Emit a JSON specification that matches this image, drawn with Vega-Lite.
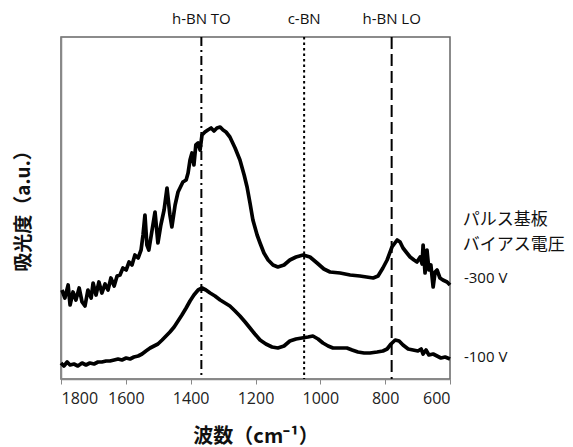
{
  "$schema": "https://vega.github.io/schema/vega-lite/v6.json",
  "autosize": "none",
  "width": 389,
  "height": 342,
  "padding": {"left": 61, "top": 37, "right": 123, "bottom": 68},
  "config": {
    "view": {"stroke": "#666", "strokeWidth": 1.5},
    "font": "Open Sans"
  },
  "datasets": {
    "spectra": [
      {"s": "-300V", "x": 1797, "y": 89}, {"s": "-300V", "x": 1788, "y": 81}, {"s": "-300V", "x": 1778, "y": 94}, {"s": "-300V", "x": 1772, "y": 74}, {"s": "-300V", "x": 1763, "y": 87}, {"s": "-300V", "x": 1754, "y": 79}, {"s": "-300V", "x": 1744, "y": 91}, {"s": "-300V", "x": 1735, "y": 77}, {"s": "-300V", "x": 1726, "y": 73}, {"s": "-300V", "x": 1717, "y": 89}, {"s": "-300V", "x": 1707, "y": 81}, {"s": "-300V", "x": 1701, "y": 96}, {"s": "-300V", "x": 1692, "y": 84}, {"s": "-300V", "x": 1683, "y": 97}, {"s": "-300V", "x": 1674, "y": 86}, {"s": "-300V", "x": 1664, "y": 95}, {"s": "-300V", "x": 1655, "y": 89}, {"s": "-300V", "x": 1646, "y": 101}, {"s": "-300V", "x": 1636, "y": 93}, {"s": "-300V", "x": 1627, "y": 103}, {"s": "-300V", "x": 1618, "y": 104}, {"s": "-300V", "x": 1609, "y": 111}, {"s": "-300V", "x": 1599, "y": 109}, {"s": "-300V", "x": 1590, "y": 117}, {"s": "-300V", "x": 1581, "y": 114}, {"s": "-300V", "x": 1572, "y": 124}, {"s": "-300V", "x": 1562, "y": 121}, {"s": "-300V", "x": 1553, "y": 129}, {"s": "-300V", "x": 1547, "y": 144}, {"s": "-300V", "x": 1541, "y": 164}, {"s": "-300V", "x": 1535, "y": 134}, {"s": "-300V", "x": 1529, "y": 129}, {"s": "-300V", "x": 1519, "y": 149}, {"s": "-300V", "x": 1510, "y": 167}, {"s": "-300V", "x": 1501, "y": 136}, {"s": "-300V", "x": 1492, "y": 154}, {"s": "-300V", "x": 1482, "y": 169}, {"s": "-300V", "x": 1473, "y": 191}, {"s": "-300V", "x": 1464, "y": 164}, {"s": "-300V", "x": 1458, "y": 152}, {"s": "-300V", "x": 1448, "y": 174}, {"s": "-300V", "x": 1439, "y": 187}, {"s": "-300V", "x": 1433, "y": 191}, {"s": "-300V", "x": 1424, "y": 197}, {"s": "-300V", "x": 1414, "y": 199}, {"s": "-300V", "x": 1408, "y": 206}, {"s": "-300V", "x": 1402, "y": 219}, {"s": "-300V", "x": 1396, "y": 226}, {"s": "-300V", "x": 1390, "y": 214}, {"s": "-300V", "x": 1384, "y": 234}, {"s": "-300V", "x": 1377, "y": 236}, {"s": "-300V", "x": 1371, "y": 229}, {"s": "-300V", "x": 1365, "y": 244}, {"s": "-300V", "x": 1356, "y": 247}, {"s": "-300V", "x": 1347, "y": 249}, {"s": "-300V", "x": 1337, "y": 251}, {"s": "-300V", "x": 1328, "y": 248}, {"s": "-300V", "x": 1319, "y": 251}, {"s": "-300V", "x": 1309, "y": 252}, {"s": "-300V", "x": 1300, "y": 249}, {"s": "-300V", "x": 1291, "y": 247}, {"s": "-300V", "x": 1279, "y": 242}, {"s": "-300V", "x": 1263, "y": 231}, {"s": "-300V", "x": 1248, "y": 219}, {"s": "-300V", "x": 1235, "y": 204}, {"s": "-300V", "x": 1226, "y": 192}, {"s": "-300V", "x": 1217, "y": 176}, {"s": "-300V", "x": 1208, "y": 159}, {"s": "-300V", "x": 1195, "y": 144}, {"s": "-300V", "x": 1186, "y": 136}, {"s": "-300V", "x": 1174, "y": 126}, {"s": "-300V", "x": 1161, "y": 119}, {"s": "-300V", "x": 1146, "y": 114}, {"s": "-300V", "x": 1131, "y": 112}, {"s": "-300V", "x": 1112, "y": 114}, {"s": "-300V", "x": 1094, "y": 119}, {"s": "-300V", "x": 1075, "y": 122}, {"s": "-300V", "x": 1053, "y": 124}, {"s": "-300V", "x": 1032, "y": 122}, {"s": "-300V", "x": 1010, "y": 116}, {"s": "-300V", "x": 989, "y": 110}, {"s": "-300V", "x": 970, "y": 107}, {"s": "-300V", "x": 939, "y": 106}, {"s": "-300V", "x": 908, "y": 104}, {"s": "-300V", "x": 878, "y": 103}, {"s": "-300V", "x": 837, "y": 101}, {"s": "-300V", "x": 822, "y": 103}, {"s": "-300V", "x": 807, "y": 111}, {"s": "-300V", "x": 794, "y": 119}, {"s": "-300V", "x": 779, "y": 132}, {"s": "-300V", "x": 763, "y": 139}, {"s": "-300V", "x": 754, "y": 137}, {"s": "-300V", "x": 745, "y": 131}, {"s": "-300V", "x": 733, "y": 126}, {"s": "-300V", "x": 723, "y": 122}, {"s": "-300V", "x": 711, "y": 119}, {"s": "-300V", "x": 702, "y": 117}, {"s": "-300V", "x": 692, "y": 122}, {"s": "-300V", "x": 686, "y": 115}, {"s": "-300V", "x": 683, "y": 134}, {"s": "-300V", "x": 677, "y": 106}, {"s": "-300V", "x": 671, "y": 129}, {"s": "-300V", "x": 665, "y": 109}, {"s": "-300V", "x": 659, "y": 114}, {"s": "-300V", "x": 652, "y": 92}, {"s": "-300V", "x": 646, "y": 107}, {"s": "-300V", "x": 640, "y": 109}, {"s": "-300V", "x": 631, "y": 101}, {"s": "-300V", "x": 622, "y": 99}, {"s": "-300V", "x": 609, "y": 97}, {"s": "-300V", "x": 600, "y": 94},
      {"s": "-100V", "x": 1800, "y": 16}, {"s": "-100V", "x": 1791, "y": 13}, {"s": "-100V", "x": 1781, "y": 17}, {"s": "-100V", "x": 1772, "y": 14}, {"s": "-100V", "x": 1760, "y": 15}, {"s": "-100V", "x": 1748, "y": 13}, {"s": "-100V", "x": 1735, "y": 16}, {"s": "-100V", "x": 1723, "y": 14}, {"s": "-100V", "x": 1711, "y": 16}, {"s": "-100V", "x": 1698, "y": 15}, {"s": "-100V", "x": 1686, "y": 17}, {"s": "-100V", "x": 1674, "y": 17}, {"s": "-100V", "x": 1661, "y": 18}, {"s": "-100V", "x": 1649, "y": 18}, {"s": "-100V", "x": 1636, "y": 19}, {"s": "-100V", "x": 1624, "y": 20}, {"s": "-100V", "x": 1612, "y": 19}, {"s": "-100V", "x": 1599, "y": 21}, {"s": "-100V", "x": 1587, "y": 20}, {"s": "-100V", "x": 1575, "y": 22}, {"s": "-100V", "x": 1562, "y": 23}, {"s": "-100V", "x": 1550, "y": 25}, {"s": "-100V", "x": 1538, "y": 28}, {"s": "-100V", "x": 1525, "y": 31}, {"s": "-100V", "x": 1513, "y": 33}, {"s": "-100V", "x": 1501, "y": 35}, {"s": "-100V", "x": 1488, "y": 39}, {"s": "-100V", "x": 1476, "y": 43}, {"s": "-100V", "x": 1464, "y": 47}, {"s": "-100V", "x": 1451, "y": 52}, {"s": "-100V", "x": 1439, "y": 58}, {"s": "-100V", "x": 1427, "y": 64}, {"s": "-100V", "x": 1414, "y": 71}, {"s": "-100V", "x": 1402, "y": 78}, {"s": "-100V", "x": 1390, "y": 84}, {"s": "-100V", "x": 1377, "y": 89}, {"s": "-100V", "x": 1365, "y": 91}, {"s": "-100V", "x": 1353, "y": 89}, {"s": "-100V", "x": 1340, "y": 86}, {"s": "-100V", "x": 1325, "y": 83}, {"s": "-100V", "x": 1309, "y": 79}, {"s": "-100V", "x": 1294, "y": 76}, {"s": "-100V", "x": 1279, "y": 73}, {"s": "-100V", "x": 1263, "y": 68}, {"s": "-100V", "x": 1248, "y": 63}, {"s": "-100V", "x": 1232, "y": 57}, {"s": "-100V", "x": 1217, "y": 51}, {"s": "-100V", "x": 1202, "y": 45}, {"s": "-100V", "x": 1186, "y": 39}, {"s": "-100V", "x": 1168, "y": 35}, {"s": "-100V", "x": 1149, "y": 32}, {"s": "-100V", "x": 1131, "y": 31}, {"s": "-100V", "x": 1112, "y": 33}, {"s": "-100V", "x": 1094, "y": 38}, {"s": "-100V", "x": 1075, "y": 40}, {"s": "-100V", "x": 1057, "y": 41}, {"s": "-100V", "x": 1038, "y": 42}, {"s": "-100V", "x": 1023, "y": 43}, {"s": "-100V", "x": 1007, "y": 40}, {"s": "-100V", "x": 992, "y": 36}, {"s": "-100V", "x": 976, "y": 33}, {"s": "-100V", "x": 961, "y": 31}, {"s": "-100V", "x": 939, "y": 31}, {"s": "-100V", "x": 918, "y": 31}, {"s": "-100V", "x": 902, "y": 29}, {"s": "-100V", "x": 884, "y": 27}, {"s": "-100V", "x": 865, "y": 26}, {"s": "-100V", "x": 847, "y": 26}, {"s": "-100V", "x": 825, "y": 27}, {"s": "-100V", "x": 807, "y": 28}, {"s": "-100V", "x": 794, "y": 30}, {"s": "-100V", "x": 782, "y": 35}, {"s": "-100V", "x": 769, "y": 39}, {"s": "-100V", "x": 757, "y": 38}, {"s": "-100V", "x": 745, "y": 34}, {"s": "-100V", "x": 729, "y": 30}, {"s": "-100V", "x": 714, "y": 29}, {"s": "-100V", "x": 699, "y": 28}, {"s": "-100V", "x": 689, "y": 30}, {"s": "-100V", "x": 683, "y": 25}, {"s": "-100V", "x": 674, "y": 29}, {"s": "-100V", "x": 665, "y": 24}, {"s": "-100V", "x": 652, "y": 25}, {"s": "-100V", "x": 640, "y": 23}, {"s": "-100V", "x": 628, "y": 21}, {"s": "-100V", "x": 615, "y": 22}, {"s": "-100V", "x": 600, "y": 20}
    ],
    "peaks": [
      {"x": 1367, "ly": 360, "kind": "TO", "label": "h-BN TO"},
      {"x": 1050, "ly": 360, "kind": "c", "label": "c-BN"},
      {"x": 780, "ly": 360, "kind": "LO", "label": "h-BN LO"}
    ],
    "notesjp": [
      {"x": 561, "y": 159, "t": "パルス基板"},
      {"x": 561, "y": 134, "t": "バイアス電圧"}
    ],
    "notesv": [
      {"x": 557, "y": 101, "t": "-300 V"},
      {"x": 557, "y": 22, "t": "-100 V"}
    ]
  },
  "encoding": {
    "x": {
      "field": "x", "type": "quantitative",
      "scale": {"domain": [600, 1800], "reverse": true, "nice": false, "zero": false},
      "axis": {
        "values": [600, 800, 1000, 1200, 1400, 1600, 1800],
        "format": "d",
        "grid": false,
        "domainColor": "#888", "domainWidth": 1.5,
        "tickColor": "#888", "tickSize": 5, "tickWidth": 1,
        "labelFont": "Open Sans", "labelFontSize": 16, "labelColor": "#222", "labelPadding": 6,
        "title": "波数（cm⁻¹）",
        "titleFont": "Noto Sans CJK JP", "titleFontSize": 20, "titleFontWeight": "bold", "titleColor": "#111", "titlePadding": 20
      }
    },
    "y": {
      "field": "y", "type": "quantitative",
      "scale": {"domain": [0, 342], "nice": false, "zero": false},
      "axis": {
        "labels": false, "ticks": false, "grid": false,
        "domainColor": "#888", "domainWidth": 1.5,
        "title": "吸光度（a.u.）",
        "titleFont": "Noto Sans CJK JP", "titleFontSize": 19, "titleFontWeight": "bold", "titleColor": "#111", "titlePadding": 28,
        "titleY": 169
      }
    }
  },
  "layer": [
    {
      "data": {"name": "peaks"},
      "mark": {"type": "rule", "color": "#000", "strokeWidth": 2},
      "encoding": {
        "y": null,
        "strokeDash": {
          "field": "kind", "type": "nominal", "legend": null,
          "scale": {"domain": ["TO", "c", "LO"], "range": [[9, 4, 2, 4], [2.5, 3], [12, 5]]}
        }
      }
    },
    {
      "data": {"name": "spectra"},
      "mark": {"type": "line", "color": "#000", "strokeWidth": 3.7, "strokeJoin": "round"},
      "encoding": {"detail": {"field": "s"}}
    },
    {
      "data": {"name": "peaks"},
      "mark": {"type": "text", "font": "Open Sans", "fontSize": 15, "color": "#111", "baseline": "middle", "align": "center"},
      "encoding": {"y": {"field": "ly", "type": "quantitative"}, "text": {"field": "label"}}
    },
    {
      "data": {"name": "notesjp"},
      "mark": {"type": "text", "align": "left", "baseline": "middle", "color": "#111", "font": "Noto Sans CJK JP", "fontSize": 17},
      "encoding": {"text": {"field": "t"}}
    },
    {
      "data": {"name": "notesv"},
      "mark": {"type": "text", "align": "left", "baseline": "middle", "color": "#111", "font": "Open Sans", "fontSize": 15},
      "encoding": {"text": {"field": "t"}}
    }
  ]
}
